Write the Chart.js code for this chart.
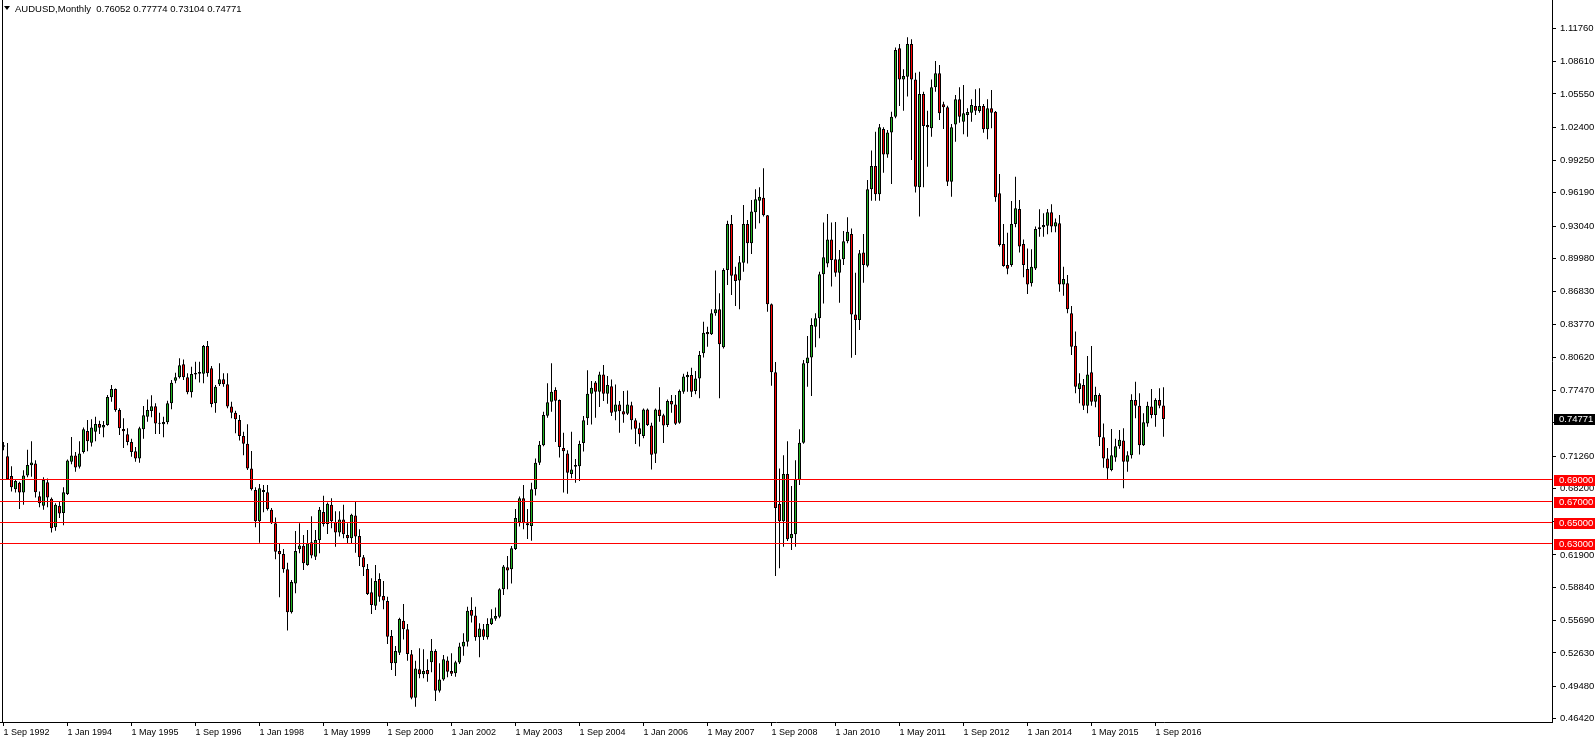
<!DOCTYPE html>
<html>
<head>
<meta charset="utf-8">
<title>AUDUSD, Monthly</title>
<script src="https://cdn.jsdelivr.net/npm/chart.js@4.4.1/dist/chart.umd.min.js"></script>
<style>
  html, body { margin: 0; padding: 0; background: #fff; }
  canvas { display: block; }
</style>
</head>
<body>
<canvas id="chart" width="1596" height="744"></canvas>
<script>
const SYMBOL = 'AUDUSD';
const PERIOD = 'Monthly';

// monthly bars, Sep 1992 .. Nov 2016
const opens = [
  0.7230,0.7125,0.6937,0.6812,0.6875,0.6781,0.6943,0.7040,0.7056,0.6747,0.6656,0.6878,
  0.6722,0.6452,0.6656,0.6587,0.6768,0.7072,0.7131,0.7025,0.7165,0.7364,0.7253,0.7358,
  0.7430,0.7398,0.7420,0.7683,0.7761,0.7562,0.7383,0.7332,0.7259,0.7172,0.7103,0.7380,
  0.7500,0.7553,0.7598,0.7436,0.7427,0.7446,0.7626,0.7840,0.7872,0.7995,0.7872,0.7730,
  0.7898,0.7907,0.7907,0.8168,0.7957,0.7626,0.7806,0.7853,0.7806,0.7595,0.7537,0.7469,
  0.7317,0.7244,0.7009,0.6806,0.6509,0.6806,0.6784,0.6619,0.6490,0.6227,0.6199,0.6054,
  0.5647,0.5921,0.6244,0.6278,0.6095,0.6310,0.6174,0.6332,0.6597,0.6484,0.6666,0.6503,
  0.6404,0.6525,0.6379,0.6348,0.6563,0.6370,0.6168,0.6058,0.5837,0.5710,0.5963,0.5802,
  0.5755,0.5423,0.5164,0.5265,0.5568,0.5486,0.5250,0.4839,0.5107,0.5060,0.5101,0.5174,
  0.5281,0.4905,0.5012,0.5192,0.5091,0.5070,0.5171,0.5323,0.5369,0.5669,0.5618,0.5410,
  0.5486,0.5410,0.5537,0.5587,0.5606,0.5865,0.6073,0.6055,0.6247,0.6500,0.6728,0.6490,
  0.6465,0.6813,0.7063,0.7228,0.7509,0.7641,0.7752,0.7657,0.7203,0.7150,0.6956,0.7025,
  0.7031,0.7250,0.7484,0.7717,0.7824,0.7736,0.7900,0.7717,0.7787,0.7546,0.7616,0.7552,
  0.7527,0.7607,0.7465,0.7389,0.7316,0.7568,0.7417,0.7149,0.7568,0.7512,0.7420,0.7647,
  0.7616,0.7442,0.7736,0.7874,0.7894,0.7742,0.7862,0.8100,0.8302,0.8280,0.8478,0.8516,
  0.8156,0.8889,0.9324,0.8847,0.8788,0.8958,0.9324,0.9141,0.9434,0.9545,0.9573,0.9406,
  0.8563,0.7919,0.6672,0.6509,0.6956,0.6348,0.6386,0.6900,0.7253,0.8005,0.8061,0.8352,
  0.8431,0.8847,0.8951,0.9178,0.8990,0.8863,0.8990,0.9160,0.9229,0.8468,0.8415,0.9055,
  0.8929,0.9652,0.9873,0.9605,1.0224,0.9983,1.0191,1.0340,1.0987,1.0693,1.0718,1.1028,
  1.0693,0.9671,1.0555,1.0261,1.0230,1.0618,1.0751,1.0457,1.0429,0.9725,1.0267,1.0504,
  1.0292,1.0356,1.0378,1.0441,1.0393,1.0441,1.0221,1.0419,1.0387,0.9615,0.9135,0.8936,
  0.8936,0.9324,0.9466,0.9135,0.8897,0.8762,0.8903,0.9273,0.9293,0.9308,0.9434,0.9299,
  0.9330,0.8752,0.8762,0.8478,0.8171,0.7761,0.7800,0.7604,0.7919,0.7641,0.7705,0.7304,
  0.7103,0.6994,0.7113,0.7219,0.7275,0.7072,0.7134,0.7657,0.7604,0.7228,0.7436,0.7595,
  0.7515,0.7657,0.76052
];
const highs = [
  0.7259,0.7250,0.7031,0.6906,0.6884,0.6993,0.7187,0.7268,0.7087,0.6790,0.6925,0.6915,
  0.6734,0.6681,0.6697,0.6831,0.7093,0.7307,0.7165,0.7268,0.7398,0.7468,0.7474,0.7499,
  0.7462,0.7459,0.7705,0.7799,0.7767,0.7579,0.7484,0.7389,0.7291,0.7213,0.7405,0.7601,
  0.7663,0.7702,0.7626,0.7537,0.7500,0.7651,0.7847,0.7916,0.8052,0.8042,0.7910,0.7973,
  0.8020,0.8020,0.8178,0.8216,0.7979,0.7800,0.8005,0.7910,0.7910,0.7641,0.7556,0.7515,
  0.7357,0.7427,0.7175,0.6831,0.6862,0.6853,0.6853,0.6634,0.6544,0.6294,0.6247,0.6117,
  0.5954,0.6417,0.6490,0.6379,0.6426,0.6556,0.6426,0.6644,0.6750,0.6688,0.6728,0.6603,
  0.6603,0.6666,0.6490,0.6581,0.6697,0.6433,0.6190,0.6105,0.5969,0.6095,0.6016,0.5944,
  0.5795,0.5480,0.5329,0.5596,0.5726,0.5536,0.5290,0.5189,0.5306,0.5297,0.5202,0.5394,
  0.5297,0.5164,0.5243,0.5228,0.5259,0.5189,0.5360,0.5449,0.5701,0.5789,0.5701,0.5543,
  0.5536,0.5590,0.5676,0.5694,0.5874,0.6095,0.6181,0.6275,0.6625,0.6744,0.6853,0.6625,
  0.6875,0.7103,0.7269,0.7547,0.7815,0.8005,0.7778,0.7663,0.7348,0.7181,0.7357,0.7100,
  0.7271,0.7506,0.7938,0.7837,0.7837,0.7925,0.7989,0.7885,0.7852,0.7805,0.7647,0.7742,
  0.7748,0.7641,0.7484,0.7442,0.7577,0.7577,0.7442,0.7577,0.7779,0.7528,0.7663,0.7704,
  0.7704,0.7758,0.7906,0.7925,0.7963,0.7931,0.8121,0.8399,0.8352,0.8516,0.8883,0.8667,
  0.8904,0.9355,0.9409,0.8920,0.9021,0.9504,0.9362,0.9551,0.9652,0.9671,0.9851,0.9409,
  0.8572,0.8017,0.7009,0.7134,0.7266,0.6844,0.7088,0.7380,0.8036,0.8263,0.8431,0.8478,
  0.8872,0.9337,0.9419,0.9337,0.9343,0.9077,0.9257,0.9387,0.9282,0.8863,0.9077,0.9229,
  0.9741,1.0019,1.0198,1.0271,1.0239,1.0214,1.0387,1.0996,1.1028,1.0788,1.1091,1.1072,
  1.0757,1.0766,1.0577,1.0397,1.0693,1.0867,1.0830,1.0482,1.0444,1.0271,1.0545,1.0618,
  1.0640,1.0419,1.0504,1.0599,1.0608,1.0460,1.0504,1.0592,1.0393,0.9797,0.9324,0.9242,
  0.9542,0.9772,0.9551,0.9178,0.9093,0.9084,0.9299,0.9463,0.9425,0.9466,0.9510,0.9377,
  0.9409,0.8920,0.8841,0.8547,0.8305,0.7910,0.7856,0.8074,0.8168,0.7784,0.7721,0.7436,
  0.7203,0.7383,0.7291,0.7374,0.7389,0.7172,0.7711,0.7831,0.7721,0.7531,0.7641,0.7761,
  0.7674,0.7768,0.77774
];
const lows = [
  0.7181,0.6900,0.6790,0.6781,0.6625,0.6665,0.6925,0.6931,0.6734,0.6643,0.6618,0.6643,
  0.6404,0.6420,0.6540,0.6472,0.6759,0.7050,0.6978,0.7009,0.7150,0.7172,0.7218,0.7268,
  0.7335,0.7304,0.7414,0.7641,0.7546,0.7326,0.7203,0.7228,0.7119,0.7072,0.7063,0.7291,
  0.7452,0.7493,0.7335,0.7335,0.7304,0.7427,0.7570,0.7815,0.7862,0.7847,0.7711,0.7680,
  0.7853,0.7822,0.7815,0.7878,0.7588,0.7537,0.7790,0.7784,0.7579,0.7484,0.7342,0.7275,
  0.7134,0.6994,0.6800,0.6452,0.6307,0.6594,0.6612,0.6484,0.6149,0.5789,0.6023,0.5474,
  0.5637,0.5828,0.6206,0.6048,0.6089,0.6159,0.6143,0.6206,0.6459,0.6389,0.6443,0.6269,
  0.6364,0.6348,0.6300,0.6294,0.6212,0.6086,0.5991,0.5811,0.5632,0.5669,0.5748,0.5676,
  0.5348,0.5102,0.5045,0.5243,0.5391,0.5189,0.4824,0.4754,0.5023,0.5023,0.4990,0.5079,
  0.4808,0.4889,0.5000,0.5032,0.5045,0.5038,0.5158,0.5237,0.5323,0.5550,0.5379,0.5222,
  0.5385,0.5391,0.5527,0.5568,0.5590,0.5811,0.5865,0.5921,0.6238,0.6459,0.6433,0.6342,
  0.6325,0.6753,0.7041,0.7219,0.7490,0.7546,0.7260,0.7113,0.6781,0.6769,0.6916,0.6875,
  0.6890,0.7171,0.7420,0.7426,0.7490,0.7591,0.7647,0.7622,0.7505,0.7465,0.7347,0.7442,
  0.7515,0.7379,0.7240,0.7218,0.7296,0.7411,0.7000,0.7062,0.7451,0.7250,0.7401,0.7537,
  0.7420,0.7433,0.7717,0.7736,0.7686,0.7711,0.7673,0.8061,0.8162,0.8272,0.8456,0.7674,
  0.8146,0.8746,0.8651,0.8547,0.8516,0.8872,0.8951,0.9040,0.9279,0.9330,0.9394,0.8494,
  0.7793,0.5991,0.6064,0.6269,0.6322,0.6238,0.6269,0.6853,0.7244,0.7784,0.7696,0.8156,
  0.8241,0.8572,0.8914,0.8731,0.8825,0.8579,0.8936,0.9141,0.8058,0.8083,0.8320,0.8768,
  0.8914,0.9545,0.9545,0.9545,0.9810,0.9952,0.9703,1.0325,1.0441,1.0397,1.0530,0.9930,
  0.9621,0.9394,0.9671,0.9867,1.0151,1.0577,1.0308,1.0224,0.9683,0.9582,1.0103,1.0283,
  1.0173,1.0151,1.0292,1.0356,1.0378,1.0188,1.0126,1.0230,0.9535,0.9110,0.8920,0.8847,
  0.8920,0.9293,0.9055,0.8819,0.8661,0.8731,0.8889,0.9204,0.9204,0.9226,0.9245,0.9245,
  0.8683,0.8645,0.8478,0.8083,0.7721,0.7626,0.7562,0.7531,0.7604,0.7588,0.7222,0.7016,
  0.6900,0.6984,0.7072,0.7197,0.6822,0.6978,0.7103,0.7484,0.7141,0.7222,0.7405,0.7484,
  0.7405,0.7579,0.73104
];
const closes = [
  0.7215,0.6906,0.6831,0.6890,0.6781,0.6943,0.7043,0.7065,0.6784,0.6681,0.6900,0.6734,
  0.6443,0.6665,0.6584,0.6784,0.7084,0.7131,0.7018,0.7150,0.7380,0.7268,0.7398,0.7430,
  0.7395,0.7420,0.7686,0.7761,0.7562,0.7389,0.7361,0.7259,0.7166,0.7103,0.7389,0.7512,
  0.7562,0.7598,0.7436,0.7433,0.7449,0.7626,0.7821,0.7872,0.7986,0.7872,0.7730,0.7904,
  0.7913,0.7923,0.8168,0.7910,0.7620,0.7784,0.7853,0.7806,0.7595,0.7537,0.7475,0.7317,
  0.7244,0.7009,0.6812,0.6509,0.6822,0.6787,0.6625,0.6490,0.6221,0.6196,0.6054,0.5647,
  0.5935,0.6227,0.6281,0.6111,0.6300,0.6184,0.6332,0.6619,0.6484,0.6675,0.6509,0.6404,
  0.6525,0.6386,0.6348,0.6572,0.6364,0.6168,0.6073,0.5820,0.5716,0.5944,0.5795,0.5758,
  0.5416,0.5164,0.5281,0.5584,0.5486,0.5253,0.4839,0.5116,0.5060,0.5091,0.5060,0.5284,
  0.4905,0.5012,0.5202,0.5085,0.5066,0.5174,0.5323,0.5369,0.5663,0.5615,0.5410,0.5495,
  0.5416,0.5536,0.5590,0.5612,0.5865,0.6080,0.6042,0.6253,0.6541,0.6728,0.6490,0.6472,
  0.6813,0.7063,0.7234,0.7515,0.7635,0.7736,0.7651,0.7213,0.7172,0.6969,0.7000,0.7041,
  0.7240,0.7465,0.7717,0.7773,0.7736,0.7900,0.7717,0.7799,0.7537,0.7616,0.7552,0.7521,
  0.7616,0.7465,0.7386,0.7332,0.7568,0.7420,0.7140,0.7568,0.7506,0.7417,0.7647,0.7616,
  0.7433,0.7742,0.7881,0.7894,0.7736,0.7862,0.8083,0.8295,0.8280,0.8478,0.8516,0.8185,
  0.8889,0.9324,0.8835,0.8785,0.8961,0.9324,0.9141,0.9441,0.9557,0.9582,0.9406,0.8563,
  0.7919,0.6634,0.6509,0.6956,0.6339,0.6389,0.6906,0.7253,0.8005,0.8061,0.8367,0.8431,
  0.8847,0.9009,0.9178,0.8983,0.8863,0.8990,0.9160,0.9251,0.8468,0.8415,0.9046,0.8936,
  0.9652,0.9873,0.9605,1.0239,0.9983,1.0191,1.0340,1.0971,1.0693,1.0725,1.1028,1.0693,
  0.9677,1.0555,1.0252,1.0239,1.0618,1.0751,1.0372,1.0429,0.9725,1.0239,1.0504,1.0340,
  1.0372,1.0384,1.0451,1.0397,1.0441,1.0221,1.0419,1.0378,0.9576,0.9125,0.8926,0.8901,
  0.9324,0.9472,0.9110,0.8936,0.8752,0.8920,0.9276,0.9293,0.9315,0.9434,0.9299,0.9340,
  0.8752,0.8803,0.8516,0.8162,0.7784,0.7815,0.7604,0.7900,0.7641,0.7705,0.7304,0.7103,
  0.7009,0.7134,0.7219,0.7281,0.7072,0.7134,0.7657,0.7604,0.7228,0.7446,0.7604,0.7515,
  0.7657,0.7604,0.74771
];

// one label every 16 bars, starting with the first bar
const xTickLabels = [
  '1 Sep 1992', '1 Jan 1994', '1 May 1995', '1 Sep 1996', '1 Jan 1998', '1 May 1999',
  '1 Sep 2000', '1 Jan 2002', '1 May 2003', '1 Sep 2004', '1 Jan 2006', '1 May 2007',
  '1 Sep 2008', '1 Jan 2010', '1 May 2011', '1 Sep 2012', '1 Jan 2014', '1 May 2015',
  '1 Sep 2016'
];
const yTickValues = [
  1.1176, 1.0861, 1.0555, 1.0240, 0.9925, 0.9619, 0.9304, 0.8998, 0.8683, 0.8377, 0.8062,
  0.7747, 0.7441, 0.7126, 0.6820, 0.6505, 0.6190, 0.5884, 0.5569, 0.5263, 0.4948, 0.4642
];
const levels = [0.69, 0.67, 0.65, 0.63];

const X_TICK_STEP = 16;
const X_MIN = -0.875;
const X_MAX = 387.125;
const Y_MIN = 0.460874;
const Y_MAX = 1.144464;

const BULL  = '#22b422';
const BEAR  = '#ff0000';
const LEVEL = '#ff0000';
const FONT  = '"Liberation Sans", Arial, sans-serif';

const bars = opens.map((_, i) => i);
const bodyColors = bars.map(i => closes[i] >= opens[i] ? BULL : BEAR);

function priceTag(ctx, x, y, value, color) {
    ctx.fillStyle = color;
    ctx.fillRect(x + 2, Math.round(y) - 5, 41, 11);
    ctx.fillStyle = '#fff';
    ctx.font = '9.5px ' + FONT;
    ctx.textAlign = 'left';
    ctx.textBaseline = 'middle';
    ctx.fillText(value.toFixed(5), x + 7, Math.round(y) + 0.5);
}

const overlay = {
    id: 'overlay',
    afterDraw(chart) {
        const { ctx, chartArea, scales } = chart;
        ctx.save();

        // window frame on the left
        ctx.strokeStyle = '#000';
        ctx.lineWidth = 1;
        ctx.beginPath();
        ctx.moveTo(2.5, chartArea.top);
        ctx.lineTo(2.5, chartArea.bottom);
        ctx.stroke();

        levels.forEach(v => {
            const py = Math.floor(scales.y.getPixelForValue(v)) + 0.5;
            ctx.strokeStyle = LEVEL;
            ctx.beginPath();
            ctx.moveTo(chartArea.left, py);
            ctx.lineTo(chartArea.right, py);
            ctx.stroke();
            priceTag(ctx, chartArea.right, py, v, LEVEL);
        });

        const last = closes.length - 1;
        priceTag(ctx, chartArea.right, scales.y.getPixelForValue(closes[last]), closes[last], '#000');

        // header
        ctx.fillStyle = '#000';
        ctx.beginPath();
        ctx.moveTo(4, 6);
        ctx.lineTo(10, 6);
        ctx.lineTo(7, 10);
        ctx.closePath();
        ctx.fill();
        ctx.font = '9.5px ' + FONT;
        ctx.textAlign = 'left';
        ctx.textBaseline = 'middle';
        const ohlc = [opens[last], highs[last], lows[last], closes[last]].map(v => v.toFixed(5)).join(' ');
        ctx.fillText(`${SYMBOL},${PERIOD}  ${ohlc}`, 15, 9);

        ctx.restore();
    }
};

Chart.defaults.font.family = FONT;
Chart.defaults.color = '#000';

new Chart(document.getElementById('chart').getContext('2d'), {
    type: 'bar',
    data: {
        datasets: [
            {
                label: 'body',
                data: bars.map(i => ({ x: i, y: [opens[i], closes[i]] })),
                backgroundColor: bodyColors,
                borderColor: '#000',
                borderWidth: 1,
                borderSkipped: false,
                barThickness: 3,
                minBarLength: 1,
                inflateAmount: 0,
                grouped: false,
                order: 1,
            },
            {
                label: 'wick',
                data: bars.map(i => ({ x: i, y: [lows[i], highs[i]] })),
                backgroundColor: '#000',
                borderWidth: 0,
                barThickness: 1,
                inflateAmount: 0,
                grouped: false,
                order: 2,
            }
        ]
    },
    options: {
        responsive: false,
        devicePixelRatio: 1,
        animation: false,
        events: [],
        layout: { padding: 0 },
        plugins: {
            legend: { display: false },
            tooltip: { enabled: false },
        },
        scales: {
            x: {
                type: 'linear',
                min: X_MIN,
                max: X_MAX,
                offset: false,
                afterBuildTicks: s => { s.ticks = xTickLabels.map((_, k) => ({ value: k * X_TICK_STEP })); },
                afterFit: s => { s.height = 22; s.paddingLeft = 0; s.paddingRight = 0; },
                grid: { drawOnChartArea: false, tickLength: 4, color: '#000', offset: false },
                border: { color: '#000' },
                ticks: {
                    autoSkip: false,
                    maxRotation: 0,
                    minRotation: 0,
                    align: 'start',
                    padding: 1,
                    font: { size: 9 },
                    callback: (v, i) => xTickLabels[i],
                },
            },
            y: {
                position: 'right',
                min: Y_MIN,
                max: Y_MAX,
                afterBuildTicks: s => { s.ticks = yTickValues.map(v => ({ value: v })); },
                afterFit: s => { s.width = 44; s.paddingTop = 0; s.paddingBottom = 0; },
                grid: { drawOnChartArea: false, tickLength: 4, color: '#000' },
                border: { color: '#000' },
                ticks: {
                    autoSkip: false,
                    padding: 4,
                    font: { size: 9.5 },
                    callback: v => v.toFixed(5),
                },
            },
        },
    },
    plugins: [overlay],
});
</script>
</body>
</html>
